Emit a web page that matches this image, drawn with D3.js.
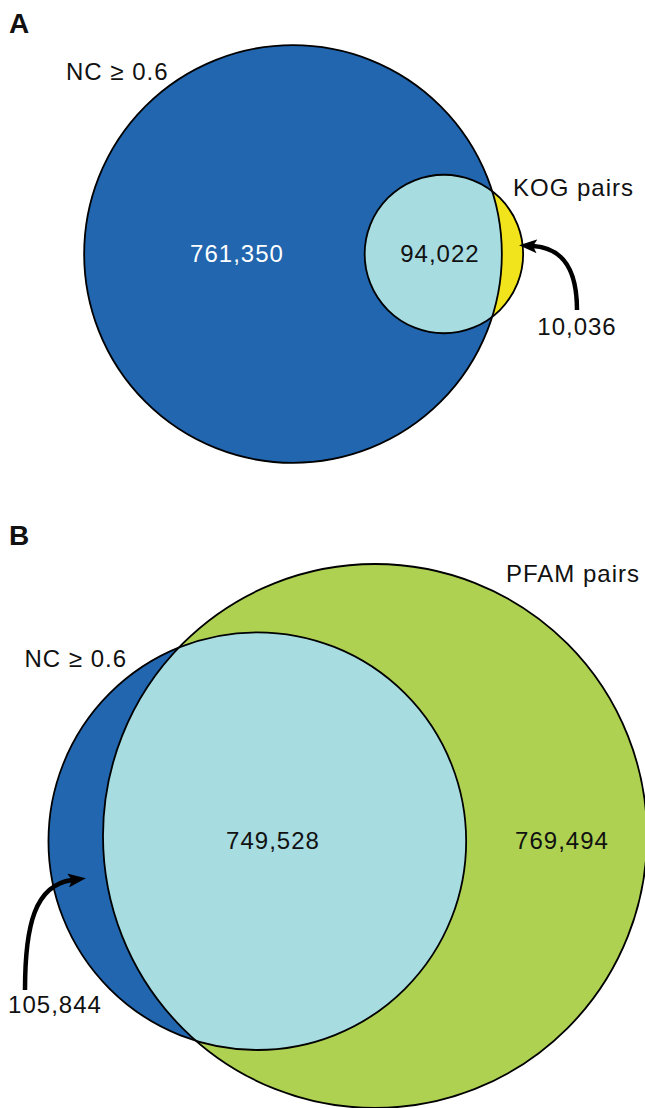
<!DOCTYPE html>
<html>
<head>
<meta charset="utf-8">
<script src="https://cdn.jsdelivr.net/npm/d3@7"></script>
<style>
  body { margin: 0; background: #fff; }
  text { font-family: "Liberation Sans", Arial, sans-serif; }
</style>
</head>
<body>
<svg width="645" height="1108"></svg>
<script>
// panel A: NC >= 0.6 vs KOG pairs
var aSets = ['NC \u2265 0.6', 'KOG pairs'];
var aCounts = [761350, 94022, 10036]; // NC only, both, KOG only
// panel B: NC >= 0.6 vs PFAM pairs
var bSets = ['NC \u2265 0.6', 'PFAM pairs'];
var bCounts = [105844, 749528, 769494]; // NC only, both, PFAM only

var fmt = d3.format(',');
var colors = { nc: '#2166ae', both: '#a7dce1', kog: '#f2e41c', pfam: '#aed152' };

var svg = d3.select('svg');

var totals = [
  aCounts[0] + aCounts[1],
  aCounts[1] + aCounts[2],
  bCounts[0] + bCounts[1],
  bCounts[1] + bCounts[2]
];
var r = d3.scalePow().exponent(0.46).domain([0, d3.max(totals)]).range([0, 272]);

// area of the lens shared by two circles at distance d
function lens(r1, r2, d) {
  if (d >= r1 + r2) return 0;
  if (d <= Math.abs(r1 - r2)) return Math.PI * Math.min(r1, r2) * Math.min(r1, r2);
  var a = r1 * r1 * Math.acos((d * d + r1 * r1 - r2 * r2) / (2 * d * r1));
  var b = r2 * r2 * Math.acos((d * d + r2 * r2 - r1 * r1) / (2 * d * r2));
  var c = 0.5 * Math.sqrt((-d + r1 + r2) * (d + r1 - r2) * (d - r1 + r2) * (d + r1 + r2));
  return a + b - c;
}
// distance so the small circle keeps the right share inside the big one
function solveDist(rBig, rSmall, frac) {
  var target = frac * Math.PI * rSmall * rSmall;
  var lo = rBig - rSmall, hi = rBig + rSmall;
  for (var i = 0; i < 60; i++) {
    var mid = (lo + hi) / 2;
    if (lens(rBig, rSmall, mid) > target) lo = mid;
    else hi = mid;
  }
  return (lo + hi) / 2;
}

var defs = svg.append('defs');
defs.append('marker')
  .attr('id', 'head')
  .attr('viewBox', '0 0 18 14')
  .attr('refX', 4)
  .attr('refY', 7)
  .attr('markerWidth', 18)
  .attr('markerHeight', 14)
  .attr('markerUnits', 'userSpaceOnUse')
  .attr('orient', 'auto')
  .append('path')
  .attr('d', 'M0,0 L18,7 L0,14 L4,7 Z')
  .attr('fill', '#000');

function label(x, y, t, opts) {
  opts = opts || {};
  return svg.append('text')
    .attr('x', x)
    .attr('y', y)
    .attr('text-anchor', opts.anchor || 'start')
    .attr('font-size', opts.size || 24)
    .attr('font-weight', opts.weight || 'normal')
    .attr('letter-spacing', opts.ls == null ? 1 : opts.ls)
    .attr('fill', opts.fill || '#111')
    .text(t);
}

// ---------- panel A ----------
var rNcA = r(totals[0]), rKog = r(totals[1]);
var dA = solveDist(rNcA, rKog, aCounts[1] / totals[1]);
var ncA = { x: 293, y: 254 };
var kog = { x: ncA.x + dA, y: ncA.y };

defs.append('clipPath').attr('id', 'clipA')
  .append('circle').attr('cx', ncA.x).attr('cy', ncA.y).attr('r', rNcA);

var gA = svg.append('g');
gA.append('circle').attr('cx', ncA.x).attr('cy', ncA.y).attr('r', rNcA).attr('fill', colors.nc);
gA.append('circle').attr('cx', kog.x).attr('cy', kog.y).attr('r', rKog).attr('fill', colors.kog);
gA.append('circle').attr('cx', kog.x).attr('cy', kog.y).attr('r', rKog)
  .attr('fill', colors.both).attr('clip-path', 'url(#clipA)');
gA.selectAll('circle.edge')
  .data([[ncA, rNcA], [kog, rKog]])
  .enter().append('circle')
  .attr('class', 'edge')
  .attr('cx', function(d) { return d[0].x; })
  .attr('cy', function(d) { return d[0].y; })
  .attr('r', function(d) { return d[1]; })
  .attr('fill', 'none')
  .attr('stroke', '#000')
  .attr('stroke-width', 1.8);

label(9, 33, 'A', { size: 28, weight: 'bold', ls: 0 });
label(66, 80, aSets[0]);
label(513, 196, aSets[1]);
label(237, 262, fmt(aCounts[0]), { anchor: 'middle', fill: '#fff' });
label(kog.x - 4, 262, fmt(aCounts[1]), { anchor: 'middle' });
label(577, 335, fmt(aCounts[2]), { anchor: 'middle' });

svg.append('path')
  .attr('d', 'M577,310 C577,272 565,248 533,246')
  .attr('fill', 'none')
  .attr('stroke', '#000')
  .attr('stroke-width', 4.5)
  .attr('marker-end', 'url(#head)');

// ---------- panel B ----------
var rNcB = r(totals[2]), rPfam = r(totals[3]);
var dB = solveDist(rPfam, rNcB, bCounts[1] / totals[2]);
var pfam = { x: 375, y: 836 };
var tilt = 2.5 * Math.PI / 180;
var ncB = { x: pfam.x - dB * Math.cos(tilt), y: pfam.y + dB * Math.sin(tilt) };

defs.append('clipPath').attr('id', 'clipB')
  .append('circle').attr('cx', pfam.x).attr('cy', pfam.y).attr('r', rPfam);

var gB = svg.append('g');
gB.append('circle').attr('cx', pfam.x).attr('cy', pfam.y).attr('r', rPfam).attr('fill', colors.pfam);
gB.append('circle').attr('cx', ncB.x).attr('cy', ncB.y).attr('r', rNcB).attr('fill', colors.nc);
gB.append('circle').attr('cx', ncB.x).attr('cy', ncB.y).attr('r', rNcB)
  .attr('fill', colors.both).attr('clip-path', 'url(#clipB)');
gB.selectAll('circle.edge')
  .data([[pfam, rPfam], [ncB, rNcB]])
  .enter().append('circle')
  .attr('class', 'edge')
  .attr('cx', function(d) { return d[0].x; })
  .attr('cy', function(d) { return d[0].y; })
  .attr('r', function(d) { return d[1]; })
  .attr('fill', 'none')
  .attr('stroke', '#000')
  .attr('stroke-width', 1.8);

label(9, 545, 'B', { size: 28, weight: 'bold', ls: 0 });
label(506, 582, bSets[1]);
label(127, 667, bSets[0], { anchor: 'end' });
label(273, 849, fmt(bCounts[1]), { anchor: 'middle' });
label(562, 849, fmt(bCounts[2]), { anchor: 'middle' });
label(55, 1013, fmt(bCounts[0]), { anchor: 'middle' });

svg.append('path')
  .attr('d', 'M25,990 C25,925 35,885 72,880')
  .attr('fill', 'none')
  .attr('stroke', '#000')
  .attr('stroke-width', 4.5)
  .attr('marker-end', 'url(#head)');
</script>
</body>
</html>
